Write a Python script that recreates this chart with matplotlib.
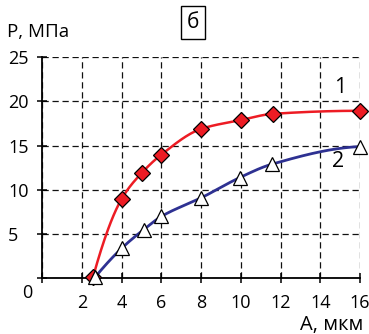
import numpy as np
import matplotlib
matplotlib.use("Agg")
import matplotlib.pyplot as plt

plt.rcParams['font.family'] = ['Open Sans', 'DejaVu Sans']

# data
x1 = [2.55, 4.0, 5.0, 6.0, 8.0, 10.0, 11.6, 16.0]
y1 = [0.1, 9.0, 11.9, 14.0, 16.9, 17.9, 18.6, 18.95]
x2 = [2.65, 4.0, 5.1, 6.0, 8.0, 9.95, 11.55, 16.0]
y2 = [0.1, 3.4, 5.5, 7.0, 9.1, 11.4, 12.9, 14.9]
xticks = [0, 2, 4, 6, 8, 10, 12, 14, 16]
xticklabels = ['', '2', '4', '6', '8', '10', '12', '14', '16']
yticks = [0, 5, 10, 15, 20, 25]
yticklabels = ['', '5', '10', '15', '20', '25']


def pchip(x, y, xs):
    x = np.asarray(x, float); y = np.asarray(y, float)
    h = np.diff(x); d = np.diff(y) / h
    n = len(x); m = np.zeros(n)
    for k in range(1, n - 1):
        if d[k - 1] * d[k] > 0:
            w1 = 2 * h[k] + h[k - 1]; w2 = h[k] + 2 * h[k - 1]
            m[k] = (w1 + w2) / (w1 / d[k - 1] + w2 / d[k])
    m[0] = ((2 * h[0] + h[1]) * d[0] - h[0] * d[1]) / (h[0] + h[1])
    if m[0] * d[0] <= 0: m[0] = 0
    elif d[0] * d[1] <= 0 and abs(m[0]) > abs(3 * d[0]): m[0] = 3 * d[0]
    m[-1] = ((2 * h[-1] + h[-2]) * d[-1] - h[-1] * d[-2]) / (h[-1] + h[-2])
    if m[-1] * d[-1] <= 0: m[-1] = 0
    elif d[-1] * d[-2] <= 0 and abs(m[-1]) > abs(3 * d[-1]): m[-1] = 3 * d[-1]
    idx = np.clip(np.searchsorted(x, xs) - 1, 0, n - 2)
    t = (xs - x[idx]) / h[idx]
    h00 = 2 * t**3 - 3 * t**2 + 1; h10 = t**3 - 2 * t**2 + t
    h01 = -2 * t**3 + 3 * t**2; h11 = t**3 - t**2
    return h00 * y[idx] + h10 * h[idx] * m[idx] + h01 * y[idx + 1] + h11 * h[idx] * m[idx + 1]


fig = plt.figure(figsize=(3.69, 3.34), dpi=100)
ax = fig.add_axes([42.3 / 369, 1 - 278.3 / 334, (360 - 42.3) / 369, (278.3 - 57.3) / 334])
ax.set_xlim(0, 16)
ax.set_ylim(0, 25)

red = '#ED1C24'
blue = '#2E3192'

xs1 = np.linspace(x1[0], x1[-1], 300)
xs2 = np.linspace(x2[0], x2[-1], 300)
ax.plot(xs1, pchip(x1, y1, xs1), color=red, lw=1.8, clip_on=False, zorder=3)
ax.plot(xs2, pchip(x2, y2, xs2), color=blue, lw=2.0, clip_on=False, zorder=3)
ax.plot(x1, y1, ls='none', marker='D', ms=7.8, mfc=red, mec='black', mew=0.9,
        clip_on=False, zorder=4)
ax.plot(x2, y2, ls='none', marker='^', ms=10, mfc='white', mec='black', mew=0.9,
        clip_on=False, zorder=4)

ax.set_xticks(xticks)
ax.set_xticklabels(xticklabels)
ax.set_yticks(yticks)
ax.set_yticklabels(yticklabels)
ax.grid(True, color='#111111', lw=0.9, ls=(0, (5, 3)))
ax.set_axisbelow(True)
for s in ['top', 'right']:
    ax.spines[s].set_visible(False)
for s in ['left', 'bottom']:
    ax.spines[s].set_linewidth(1.3)
ax.tick_params(axis='both', direction='inout', length=7, width=1.1, labelsize=13)
ax.tick_params(axis='x', pad=8)
ax.tick_params(axis='y', pad=21)
for lbl in ax.get_yticklabels():
    lbl.set_horizontalalignment('left')

ax.text(-0.77, -1.7, '0', fontsize=13, ha='center', va='center')
ax.text(15.0, 21.6, '1', fontsize=15.5, ha='center', va='center')
ax.text(14.9, 13.2, '2', fontsize=15.5, ha='center', va='center')

fig.text(7 / 369, 1 - 32 / 334, 'Р, МПа', fontsize=13.5, ha='left', va='center')
fig.text(363 / 369, 1 - 325 / 334, 'А, мкм', fontsize=14.5, ha='right', va='center')
fig.text(193 / 369, 1 - 22.5 / 334, 'б', fontsize=15, ha='center', va='center',
         bbox=dict(boxstyle='square,pad=0.3', fc='white', ec='black', lw=1.0))

fig.savefig('out.png', dpi=100)
